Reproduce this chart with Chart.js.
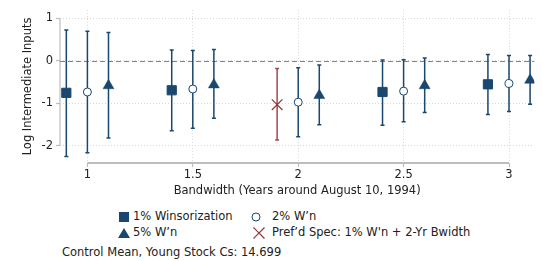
<!DOCTYPE html>
<html>
<head>
<meta charset="utf-8">
<script src="https://cdn.jsdelivr.net/npm/chart.js@4.4.1/dist/chart.umd.min.js"></script>
<style>
body { margin: 0; background: #fff; font-family: "DejaVu Sans", sans-serif; }
#wrap { position: relative; width: 543px; height: 261px; }
#chart { position: absolute; left: 0; top: 0; }
.leg { position: absolute; font-size: 11.5px; color: #222; line-height: 13px; white-space: nowrap; }
.mk { position: absolute; overflow: visible; }
</style>
</head>
<body>
<div id="wrap">
  <canvas id="chart" width="543" height="200"></canvas>

  <svg class="mk" style="left:119px;top:212px" width="10" height="10"><rect width="10" height="10" fill="#1a476f"/></svg>
  <div class="leg" style="left:133px;top:210px">1% Winsorization</div>
  <svg class="mk" style="left:251px;top:212px" width="10" height="10"><circle cx="5" cy="5" r="4" fill="#fff" stroke="#1a476f" stroke-width="1"/></svg>
  <div class="leg" style="left:272px;top:210px">2% W’n</div>

  <svg class="mk" style="left:118px;top:228px" width="12" height="10"><polygon points="6,0 12,10 0,10" fill="#1a476f"/></svg>
  <div class="leg" style="left:133px;top:226px">5% W’n</div>
  <svg class="mk" style="left:253px;top:227px" width="12" height="12"><path d="M0.5 0.5 L11.5 11.5 M11.5 0.5 L0.5 11.5" stroke="#90353b" stroke-width="1.2"/></svg>
  <div class="leg" style="left:272px;top:226px">Pref’d Spec: 1% W'n + 2-Yr Bwidth</div>

  <div class="leg" style="left:62px;top:246px">Control Mean, Young Stock Cs: 14.699</div>
</div>

<script>
////// data //////
const bandwidths = [1, 1.5, 2, 2.5, 3];
const xTicks = [1, 1.5, 2, 2.5, 3];
const yTicks = [-2, -1, 0, 1];

// 1% winsorization (the 2-yr one is the preferred spec)
const w1Est = [-0.75, -0.69, -1.03, -0.73, -0.55];
const w1Lo  = [-2.25, -1.64, -1.86, -1.51, -1.26];
const w1Hi  = [0.73, 0.26, -0.18, 0.02, 0.15];
const prefIndex = 2;

// 2% winsorization
const w2Est = [-0.73, -0.66, -0.97, -0.71, -0.53];
const w2Lo  = [-2.16, -1.58, -1.78, -1.43, -1.19];
const w2Hi  = [0.70, 0.245, -0.16, 0.03, 0.13];

// 5% winsorization
const w5Est = [-0.58, -0.56, -0.81, -0.58, -0.45];
const w5Lo  = [-1.81, -1.35, -1.50, -1.21, -1.02];
const w5Hi  = [0.67, 0.27, -0.095, 0.07, 0.13];

// bandwidth offsets so the three series sit side by side
const shiftW1 = -0.1, shiftW2 = 0, shiftW5 = 0.1;

const navy = '#1a476f';
const maroon = '#90353b';

function points(est, lo, hi, shift, keep) {
    return bandwidths.map((b, i) => ({ x: b + shift, y: est[i], lo: lo[i], hi: hi[i], i }))
        .filter(p => keep(p.i));
}

////// plugins //////
const errorBars = {
    id: 'errorBars',
    beforeDatasetsDraw(chart) {
        const { ctx, scales: { x, y } } = chart;
        ctx.save();
        chart.data.datasets.forEach(ds => {
            ctx.strokeStyle = ds.barColor;
            ctx.lineWidth = 1.5;
            ds.data.forEach(p => {
                const px = x.getPixelForValue(p.x);
                const top = y.getPixelForValue(p.hi);
                const bot = y.getPixelForValue(p.lo);
                ctx.beginPath();
                ctx.moveTo(px, top); ctx.lineTo(px, bot);
                ctx.moveTo(px - 2, top); ctx.lineTo(px + 2, top);
                ctx.moveTo(px - 2, bot); ctx.lineTo(px + 2, bot);
                ctx.stroke();
            });
        });
        ctx.restore();
    }
};

// stata style axis lines (only over tick range) + zero reference line
const axisLines = {
    id: 'axisLines',
    beforeDatasetsDraw(chart) {
        const { ctx, chartArea: a, scales: { x, y } } = chart;
        ctx.save();
        ctx.strokeStyle = '#bdbdbd';
        ctx.lineWidth = 1.2;
        ctx.beginPath();
        ctx.moveTo(a.left, y.getPixelForValue(yTicks[yTicks.length - 1]));
        ctx.lineTo(a.left, y.getPixelForValue(yTicks[0]));
        ctx.stroke();
        ctx.lineWidth = 2;
        ctx.beginPath();
        ctx.moveTo(x.getPixelForValue(xTicks[0]), a.bottom);
        ctx.lineTo(x.getPixelForValue(xTicks[xTicks.length - 1]), a.bottom);
        ctx.stroke();

        const y0 = Math.round(y.getPixelForValue(0)) + 0.5;
        ctx.strokeStyle = '#c4608a';
        ctx.lineWidth = 1;
        ctx.setLineDash([5, 3]);
        ctx.beginPath();
        ctx.moveTo(a.left, y0);
        ctx.lineTo(a.right, y0);
        ctx.stroke();
        ctx.restore();
    }
};

////// chart //////
const font = { family: 'DejaVu Sans', size: 11.5 };

new Chart(document.querySelector('#chart'), {
    type: 'scatter',
    data: {
        datasets: [
            {
                label: '1% Winsorization',
                data: points(w1Est, w1Lo, w1Hi, shiftW1, i => i !== prefIndex),
                pointStyle: 'rect', pointRadius: 6.5, borderWidth: 1,
                backgroundColor: navy, borderColor: navy, barColor: navy
            },
            {
                label: '2% W’n',
                data: points(w2Est, w2Lo, w2Hi, shiftW2, () => true),
                pointStyle: 'circle', pointRadius: 4, borderWidth: 1,
                backgroundColor: '#fff', borderColor: navy, barColor: navy
            },
            {
                label: '5% W’n',
                data: points(w5Est, w5Lo, w5Hi, shiftW5, () => true),
                pointStyle: 'triangle', pointRadius: 6.3, borderWidth: 0.5,
                backgroundColor: navy, borderColor: navy, barColor: navy
            },
            {
                label: "Pref’d Spec: 1% W'n + 2-Yr Bwidth",
                data: points(w1Est, w1Lo, w1Hi, shiftW1, i => i === prefIndex),
                pointStyle: 'crossRot', pointRadius: 7.5, borderWidth: 1.2,
                backgroundColor: maroon, borderColor: maroon, barColor: '#a6474f'
            }
        ]
    },
    options: {
        responsive: false,
        animation: false,
        layout: { padding: { left: 0, right: 3, top: 5, bottom: 0 } },
        plugins: { legend: { display: false }, tooltip: { enabled: false } },
        scales: {
            x: {
                type: 'linear',
                min: 0.87, max: 3.12,
                afterBuildTicks: s => { s.ticks = xTicks.map(v => ({ value: v })); },
                afterFit: s => { s.height = 37; },
                ticks: { font, color: '#222', padding: 1, maxRotation: 0, callback: v => String(v) },
                grid: { color: '#d8d8d8', tickColor: '#bdbdbd', tickLength: 4, tickWidth: 1.2 },
                border: { display: false, dash: [1, 2] },
                title: { display: true, text: 'Bandwidth (Years around August 10, 1994)', font, color: '#222', padding: { top: 0, bottom: 2 } }
            },
            y: {
                min: -2.4, max: 1.2,
                afterBuildTicks: s => { s.ticks = yTicks.map(v => ({ value: v })); },
                afterFit: s => { s.width = 60; },
                ticks: { font, color: '#222', padding: 3, callback: v => String(v) },
                grid: { color: '#d8d8d8', tickColor: '#bdbdbd', tickLength: 4, tickWidth: 1.2 },
                border: { display: false, dash: [1, 2] },
                title: { display: true, text: 'Log Intermediate Inputs', font, color: '#222', padding: { top: 21, bottom: 0 } }
            }
        }
    },
    plugins: [axisLines, errorBars]
});
</script>
</body>
</html>
